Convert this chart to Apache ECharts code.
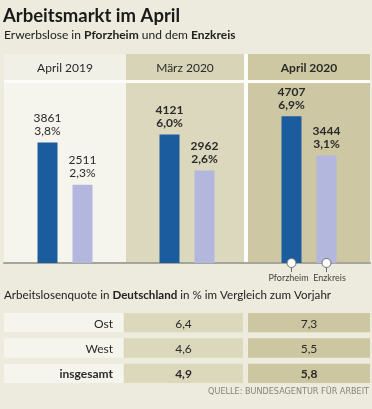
<!DOCTYPE html>
<html><head><meta charset="utf-8">
<script src="https://cdn.jsdelivr.net/npm/echarts@6/dist/echarts.min.js"></script>
<style>html,body{margin:0;padding:0;background:#ecebdd;} #c{width:372px;height:409px;}</style>
</head><body><div id="c"></div>
<script>
const periods = ['April 2019', 'März 2020', 'April 2020'];
const pforzheimValues = [3861, 4121, 4707];
const pforzheimRates = [3.8, 6.0, 6.9];
const enzkreisValues = [2511, 2962, 3444];
const enzkreisRates = [2.3, 2.6, 3.1];
const tableRows = ['Ost', 'West', 'insgesamt'];
const tableCols = ['', 'April 2019', 'April 2020'];
const quote2019 = [6.4, 4.6, 4.9];
const quote2020 = [7.3, 5.5, 5.8];

const FF = 'Lato, "Open Sans", sans-serif';
const fmt = v => v.toFixed(1).replace('.', ',');
const headerBg = ['#f1f0e6', '#d8d4b7', '#cdc7a2'];
const bodyBg = ['#f5f4ed', '#dcd8bd', '#cdc8a3'];
const cellBg = ['#f5f4ed', '#dcd8bc', '#cdc7a1'];

const chart = echarts.init(document.getElementById('c'), null, {renderer: 'canvas'});

function panelItem(params, api) {
  const idx = api.value(0);
  const c = api.coord([idx, 0]);
  const w = api.size([1, 0])[0];
  const cs = params.coordSys;
  const x0 = c[0] - w / 2, x1 = c[0] + w / 2;
  const top = cs.y, bottom = cs.y + cs.height;
  const headerH = 26, gap = 3;
  const inset = idx === 1 ? 4 : 0;
  return {
    type: 'group',
    children: [
      {type: 'rect', shape: {x: x0, y: top, width: x1 - x0, height: bottom - top}, style: {fill: '#fcfcf8'}},
      {type: 'rect', shape: {x: x0, y: top, width: x1 - x0 - inset, height: headerH}, style: {fill: headerBg[idx]}},
      {type: 'rect', shape: {x: x0, y: top + headerH + gap, width: x1 - x0 - inset, height: bottom - top - headerH - gap}, style: {fill: bodyBg[idx]}},
      {type: 'text', x: (x0 + x1 - inset) / 2, y: top + headerH / 2 + 1, style: {
        text: periods[idx], fill: '#2a2a2a', font: (idx === 2 ? 'bold ' : '') + '12px ' + FF,
        align: 'center', verticalAlign: 'middle'}}
    ]
  };
}

function cellItem(params, api) {
  const col = api.value(0), row = api.value(1);
  const c = api.coord([col, row]);
  const s = api.size([1, 1]);
  const bandTop = c[1] - s[1] / 2;
  const leftExt = [0, 2, 0][col];
  const rightIns = [3, 5, 0][col];
  const x0 = c[0] - s[0] / 2 - leftExt;
  const x1 = c[0] + s[0] / 2 - rightIns;
  const y0 = bandTop + 1, h = s[1] - 6;
  let text, tx, align;
  if (col === 0) { text = tableRows[row]; tx = x1 - 10; align = 'right'; }
  else { text = fmt(col === 1 ? quote2019[row] : quote2020[row]); tx = (x0 + x1) / 2; align = 'center'; }
  return {
    type: 'group',
    children: [
      {type: 'rect', shape: {x: x0, y: y0, width: x1 - x0, height: h}, style: {fill: cellBg[col]}},
      {type: 'text', x: tx, y: y0 + h / 2 + 1, style: {
        text: text, fill: '#2a2a2a', font: (row === 2 ? 'bold ' : '') + '12px ' + FF,
        align: align, verticalAlign: 'middle'}}
    ]
  };
}

const tableData = [];
tableRows.forEach((r, ri) => tableCols.forEach((cName, ci) => tableData.push([ci, ri])));

function barLabel(rates) {
  return p => p.value + '\n' + fmt(rates[p.dataIndex]) + '%';
}

const richText = {
  n: {fontFamily: FF, fontSize: 12, fontWeight: 'normal', color: '#222'},
  b: {fontFamily: FF, fontSize: 12, fontWeight: 'bold', color: '#222'}
};
const richSmall = {
  n: {fontFamily: FF, fontSize: 11.6, fontWeight: 'normal', color: '#222'},
  b: {fontFamily: FF, fontSize: 11.6, fontWeight: 'bold', color: '#222'}
};

function marker(name, dx) {
  return {z: 6, symbol: 'circle', symbolSize: 9, silent: true,
    itemStyle: {color: '#ffffff', borderColor: '#6e6e6e', borderWidth: 1},
    label: {show: true, position: 'bottom', distance: 0, formatter: '{s|}\n{t|' + name + '}',
      rich: {s: {width: 1, height: 4, backgroundColor: '#6e6e6e'},
             t: {fontFamily: FF, fontSize: 9, fontWeight: 'normal', color: '#444', lineHeight: 12, padding: dx < 0 ? [0, -dx * 2, 0, 0] : [0, 0, 0, dx * 2]}}},
    data: [{coord: [2, 0]}]};
}

const option = {
  backgroundColor: '#ecebdd',
  animation: false,
  title: [
    {text: 'Arbeitsmarkt im April', left: 3, top: 7, padding: 0,
     textStyle: {fontFamily: FF, fontSize: 18.5, fontWeight: 'bold', color: '#1a1a1a'}},
    {text: '{n|Erwerbslose in }{b|Pforzheim}{n| und dem }{b|Enzkreis}', left: 4, top: 29, padding: 0,
     textStyle: {fontWeight: 'normal', rich: richText}},
    {text: '{n|Arbeitslosenquote in }{b|Deutschland}{n| in % im Vergleich zum Vorjahr}', left: 4, top: 289, padding: 0,
     textStyle: {fontWeight: 'normal', rich: richSmall}},
    {text: 'QUELLE: BUNDESAGENTUR FÜR ARBEIT', right: 3, top: 387, padding: 0,
     textStyle: {fontFamily: '"Liberation Sans Narrow", "DejaVu Sans Condensed", sans-serif', fontSize: 9, fontWeight: 'normal', color: '#85847a'}}
  ],
  grid: [
    {left: 4, right: 2, top: 54, bottom: 146},
    {left: 4, right: 2, top: 312, height: 76}
  ],
  xAxis: [
    {type: 'category', data: periods, gridIndex: 0, z: 3,
     axisLine: {show: true, lineStyle: {color: '#a6a59c', width: 2}},
     axisTick: {show: false}, axisLabel: {show: false}, splitLine: {show: false}},
    {type: 'category', data: tableCols, gridIndex: 1, show: false}
  ],
  yAxis: [
    {type: 'value', gridIndex: 0, min: 0, max: 6700, show: false, splitLine: {show: false}},
    {type: 'category', data: tableRows, gridIndex: 1, inverse: true, show: false}
  ],
  series: [
    {type: 'custom', xAxisIndex: 0, yAxisIndex: 0, z: 1, silent: true,
     data: periods.map((p, i) => [i]), renderItem: panelItem},
    {type: 'bar', name: 'Pforzheim', xAxisIndex: 0, yAxisIndex: 0, z: 4,
     data: pforzheimValues.map((v, i) => ({value: v, label: {fontWeight: i > 0 ? 'bold' : 'normal'}})),
     barWidth: 20, barGap: '75%', itemStyle: {color: '#1a5c9e'},
     label: {show: true, position: 'top', distance: 5, fontFamily: FF, fontSize: 12, lineHeight: 13,
             color: '#2a2a2a', formatter: barLabel(pforzheimRates)},
     markPoint: marker('Pforzheim', -3)},
    {type: 'bar', name: 'Enzkreis', xAxisIndex: 0, yAxisIndex: 0, z: 4,
     data: enzkreisValues.map((v, i) => ({value: v, label: {fontWeight: i > 0 ? 'bold' : 'normal'}})),
     barWidth: 20, barGap: '75%', itemStyle: {color: '#b3b6dd'},
     label: {show: true, position: 'top', distance: 5, fontFamily: FF, fontSize: 12, lineHeight: 13,
             color: '#2a2a2a', formatter: barLabel(enzkreisRates)},
     markPoint: marker('Enzkreis', 3)},
    {type: 'custom', xAxisIndex: 1, yAxisIndex: 1, silent: true,
     data: tableData, renderItem: cellItem}
  ]
};
chart.setOption(option);
</script>
</body></html>
